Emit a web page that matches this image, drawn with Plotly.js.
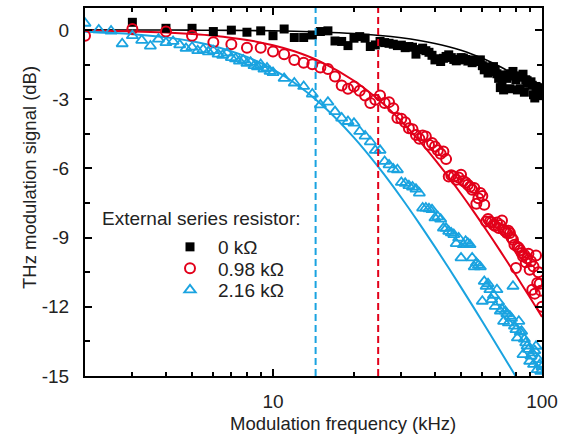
<!DOCTYPE html>
<html>
<head>
<meta charset="utf-8">
<script src="https://cdn.plot.ly/plotly-3.0.1.min.js"></script>
<style>html,body{margin:0;padding:0;background:#fff;}#chart{width:570px;height:439px;}</style>
</head>
<body>
<div id="chart"></div>
<script>
// ---- data ----
const seriesNames = ['0 k\u03A9', '0.98 k\u03A9', '2.16 k\u03A9'];

const blackFreq = [3,4,5,6,7,8,9,10,11,12,13,14,15,16,17,18,19,20,21,22,23,24,25,26,27,28,29,30,31,32,33,34,35,36,37,38,39,40,41,42,43,44,45,46,47,48,49,50,51,52,53,54,55,56,57,58,59,60,61,62,63,64,65,66,67,68,69,70,71,72,73,74,75,76,77,78,79,80,81,82,83,84,85,86,87,88,89,90,91,92,93,94,95,96,97,98,99,100];
const blackDB = [0.33,0.07,0.07,-0.07,-0.01,-0.1,-0.04,-0.25,0.04,-0.33,-0.33,-0.22,-0.07,-0.04,-0.48,-0.5,-0.68,-0.36,-0.29,-0.36,-0.72,-0.65,-0.5,-0.55,-0.58,-0.62,-0.68,-0.66,-0.77,-0.72,-0.75,-1.05,-0.85,-0.79,-0.9,-0.97,-1.1,-1.3,-1.25,-1.37,-1.23,-1.15,-1.08,-1.2,-1.28,-1.34,-1.3,-1.2,-1.22,-1.28,-1.35,-1.3,-1.42,-1.35,-1.37,-1.32,-1.3,-1.55,-1.73,-1.6,-1.87,-1.8,-1.65,-1.59,-1.75,-1.9,-2.1,-2.5,-2.38,-2.6,-1.95,-2.1,-1.95,-2.55,-1.9,-1.8,-2.0,-2.16,-2.6,-2.05,-2.55,-2.0,-1.92,-2.7,-2.16,-2.2,-2.3,-2.31,-2.25,-2.4,-2.81,-2.95,-2.45,-2.5,-2.6,-2.52,-2.7,-2.85];

const redFreq = [2,3,4,5,6,7,8,9,10,11,12,13,14,15,16,17,18,19,20,21,22,23,24,25,26,27,28,29,30,31,32,33,34,35,36,37,38,39,40,41,42,43,44,45,46,47,48,49,50,51,52,53,54,55,56,57,58,59,60,61,62,63,64,65,66,67,68,69,70,71,72,73,74,75,76,77,78,79,80,81,82,83,84,85,86,87,88,89,90,91,92,93,94,95,96,97,98,99,100];
const redDB = [-0.25,0.04,-0.07,-0.25,-0.53,-0.62,-0.77,-0.77,-0.94,-1.05,-1.3,-1.42,-1.49,-1.63,-1.69,-2.02,-2.41,-2.55,-2.45,-2.64,-2.84,-3.17,-3.03,-2.84,-3.17,-3.13,-3.39,-3.82,-3.85,-4.0,-4.26,-4.3,-4.55,-4.72,-4.58,-4.62,-4.98,-4.9,-5.05,-5.22,-5.37,-5.27,-5.6,-6.35,-6.3,-6.35,-6.49,-6.4,-6.28,-6.55,-6.61,-6.71,-6.8,-6.93,-6.85,-7.53,-7.3,-7.07,-7.2,-7.58,-8.3,-8.2,-8.3,-8.35,-8.44,-8.5,-8.35,-8.59,-8.45,-8.26,-8.65,-8.73,-8.8,-8.7,-8.8,-9.0,-9.09,-9.31,-10.32,-9.4,-9.45,-9.55,-9.67,-9.81,-9.75,-10.07,-9.9,-9.7,-10.39,-10.03,-11.26,-10.25,-11.43,-9.78,-10.97,-10.5,-11.0,-11.3,-12.0];

const blueFreq = [2,2.25,2.5,2.75,3,3.25,3.5,3.75,4,4.25,4.5,4.75,5,5.25,5.5,5.75,6,6.25,6.5,6.75,7,7.25,7.5,7.75,8,8.25,8.5,8.75,9,9.25,9.5,9.75,10,11,12,13,14,15,16,17,18,19,20,21,22,23,24,25,26,27,28,29,30,31,32,33,34,35,36,37,38,39,40,41,42,43,44,45,46,47,48,49,50,51,52,53,54,55,56,57,58,59,60,61,62,63,64,65,66,67,68,69,70,71,72,73,74,75,76,77,78,79,80,81,82,83,84,85,86,87,88,89,90,91,92,93,94,95,96,97,98,99,100];
const blueDB = [0.29,0.0,-0.05,-0.6,-0.25,-0.45,-0.7,-0.4,-0.55,-0.5,-0.65,-0.8,-0.75,-0.9,-0.85,-0.95,-0.9,-1.05,-1.1,-1.0,-1.2,-1.25,-1.35,-1.3,-1.45,-1.4,-1.55,-1.6,-1.5,-1.7,-1.65,-1.8,-1.85,-2.1,-2.3,-2.45,-2.78,-3.25,-3.13,-3.54,-3.82,-3.97,-4.04,-4.4,-4.6,-4.85,-5.22,-5.22,-5.7,-5.85,-6.03,-6.06,-6.61,-6.65,-6.75,-6.81,-6.9,-7.07,-7.72,-7.72,-7.75,-7.79,-8.15,-8.1,-8.2,-8.59,-8.6,-8.73,-8.8,-8.87,-9.26,-9.02,-9.88,-9.31,-9.16,-9.25,-9.31,-9.88,-10.27,-10.1,-10.2,-10.27,-11.76,-10.9,-11.11,-11.0,-11.26,-11.69,-11.5,-11.98,-11.26,-11.8,-12.19,-12.1,-12.63,-12.19,-12.3,-12.7,-12.41,-12.5,-11.11,-12.84,-12.99,-13.35,-12.63,-13.1,-13.06,-14.07,-13.4,-13.56,-13.7,-13.85,-14.36,-14.14,-14.0,-14.5,-13.9,-13.71,-14.72,-14.29,-14.5,-14.8,-14.6];

const fitFreq = [2,3,4,5,6,8,10,12,15,20,25,30,35,40,45,50,55,60,65,70,75,80,85,90,95,100];
const fitBlack = [0,-0.004,-0.006,-0.01,-0.014,-0.025,-0.039,-0.056,-0.088,-0.155,-0.239,-0.341,-0.458,-0.588,-0.732,-0.886,-1.053,-1.227,-1.409,-1.597,-1.79,-1.988,-2.189,-2.393,-2.598,-2.804];
const fitRed = [-0.029,-0.064,-0.113,-0.176,-0.251,-0.437,-0.664,-0.926,-1.373,-2.203,-3.082,-3.957,-4.806,-5.617,-6.381,-7.102,-7.781,-8.419,-9.02,-9.589,-10.127,-10.635,-11.119,-11.579,-12.018,-12.437];
const fitBlue = [-0.083,-0.184,-0.323,-0.495,-0.695,-1.168,-1.709,-2.291,-3.191,-4.667,-6.036,-7.275,-8.394,-9.404,-10.32,-11.158,-11.928,-12.639,-13.299,-13.915,-14.492,-15.03,-15.54,-16.03,-16.49,-16.92];

const cutoffFreqs = [14.4, 24.6];   // blue, red dashed markers
const xTickVals = [10, 100];
const xTickText = ['10', '100'];
const xMinorVals = [3,4,5,6,7,8,9,20,30,40,50,60,70,80,90];
const yTickVals = [0, -3, -6, -9, -12, -15];
const yTickText = ['0', '-3', '-6', '-9', '-12', '-15'];
const yMinorVals = [-1.5, -4.5, -7.5, -10.5, -13.5];

// ---- styling ----
const BLACK = '#000000', RED = '#e2001a', BLUE = '#1aa3e0';
const FONT = 'Liberation Sans, Arial, sans-serif';
const FS = 19;
const yRange = [-15, 0.95];

const traces = [
  {x: fitFreq, y: fitBlack, mode: 'lines', line: {color: BLACK, width: 1.6, shape: 'spline'}, showlegend: false, hoverinfo: 'skip'},
  {x: fitFreq, y: fitRed, mode: 'lines', line: {color: RED, width: 2, shape: 'spline'}, showlegend: false, hoverinfo: 'skip'},
  {x: fitFreq, y: fitBlue, mode: 'lines', line: {color: BLUE, width: 2, shape: 'spline'}, showlegend: false, hoverinfo: 'skip'},
  {x: blackFreq, y: blackDB, mode: 'markers', name: seriesNames[0], legend: 'legend',
   marker: {symbol: 'square', size: 9, color: BLACK}},
  {x: redFreq, y: redDB, mode: 'markers', name: seriesNames[1], legend: 'legend2',
   marker: {symbol: 'circle-open', size: 10, color: RED, line: {width: 2, color: RED}}},
  {x: blueFreq, y: blueDB, mode: 'markers', name: seriesNames[2], legend: 'legend3',
   marker: {symbol: 'triangle-up-open', size: 10, color: BLUE, line: {width: 1.8, color: BLUE}}},
  {x: [cutoffFreqs[0], cutoffFreqs[0]], y: yRange, mode: 'lines', showlegend: false, hoverinfo: 'skip',
   line: {color: BLUE, width: 2, dash: '7px,4px'}},
  {x: [cutoffFreqs[1], cutoffFreqs[1]], y: yRange, mode: 'lines', showlegend: false, hoverinfo: 'skip',
   line: {color: RED, width: 2, dash: '7px,4px'}}
];

const axisCommon = {
  showline: true, linecolor: '#000', linewidth: 2, mirror: 'ticks',
  ticks: 'inside', tickcolor: '#000', tickwidth: 2, ticklen: 7,
  showgrid: false, zeroline: false,
  tickfont: {family: FONT, size: FS, color: '#222'}
};

function legendAt(py) {
  return {
    x: (162 - 85) / 457, y: 1 - (py - 8) / 368, xanchor: 'left', yanchor: 'middle',
    bgcolor: 'rgba(0,0,0,0)', borderwidth: 0,
    font: {family: FONT, size: FS, color: '#222'}, itemwidth: 46
  };
}

const layout = {
  width: 570, height: 439,
  margin: {l: 85, r: 28, t: 8, b: 63},
  paper_bgcolor: '#fff', plot_bgcolor: '#fff',
  font: {family: FONT, size: FS, color: '#222'},
  xaxis: Object.assign({}, axisCommon, {
    type: 'log', range: [Math.log10(2), 2],
    tickmode: 'array', tickvals: xTickVals, ticktext: xTickText,
    ticklabelstandoff: 7,
    minor: {tickmode: 'array', tickvals: xMinorVals, ticks: 'inside', ticklen: 4, tickwidth: 2, tickcolor: '#000', showgrid: false}
  }),
  yaxis: Object.assign({}, axisCommon, {
    range: yRange,
    tickmode: 'array', tickvals: yTickVals, ticktext: yTickText,
    ticklabelstandoff: 10,
    minor: {tickmode: 'array', tickvals: yMinorVals, ticks: 'inside', ticklen: 5, tickwidth: 2, tickcolor: '#000', showgrid: false}
  }),
  showlegend: true,
  legend: legendAt(247),
  legend2: legendAt(268.5),
  legend3: legendAt(290),
  annotations: [
    {text: 'External series resistor:', xref: 'paper', yref: 'paper',
     x: (100 - 85) / 457, y: 1 - (218 - 8) / 368, xanchor: 'left', yanchor: 'middle',
     showarrow: false, font: {family: FONT, size: FS, color: '#222'}},
    {text: 'Modulation frequency (kHz)', xref: 'paper', yref: 'paper',
     x: (343 - 85) / 457, y: 1 - (423 - 8) / 368, xanchor: 'center', yanchor: 'middle',
     showarrow: false, font: {family: FONT, size: 18.5, color: '#222'}},
    {text: 'THz modulation signal (dB)', xref: 'paper', yref: 'paper', textangle: -90,
     x: (30 - 85) / 457, y: 1 - (178 - 8) / 368, xanchor: 'center', yanchor: 'middle',
     showarrow: false, font: {family: FONT, size: 18.5, color: '#222'}}
  ]
};

Plotly.newPlot('chart', traces, layout, {staticPlot: true, displayModeBar: false});
</script>
</body>
</html>
